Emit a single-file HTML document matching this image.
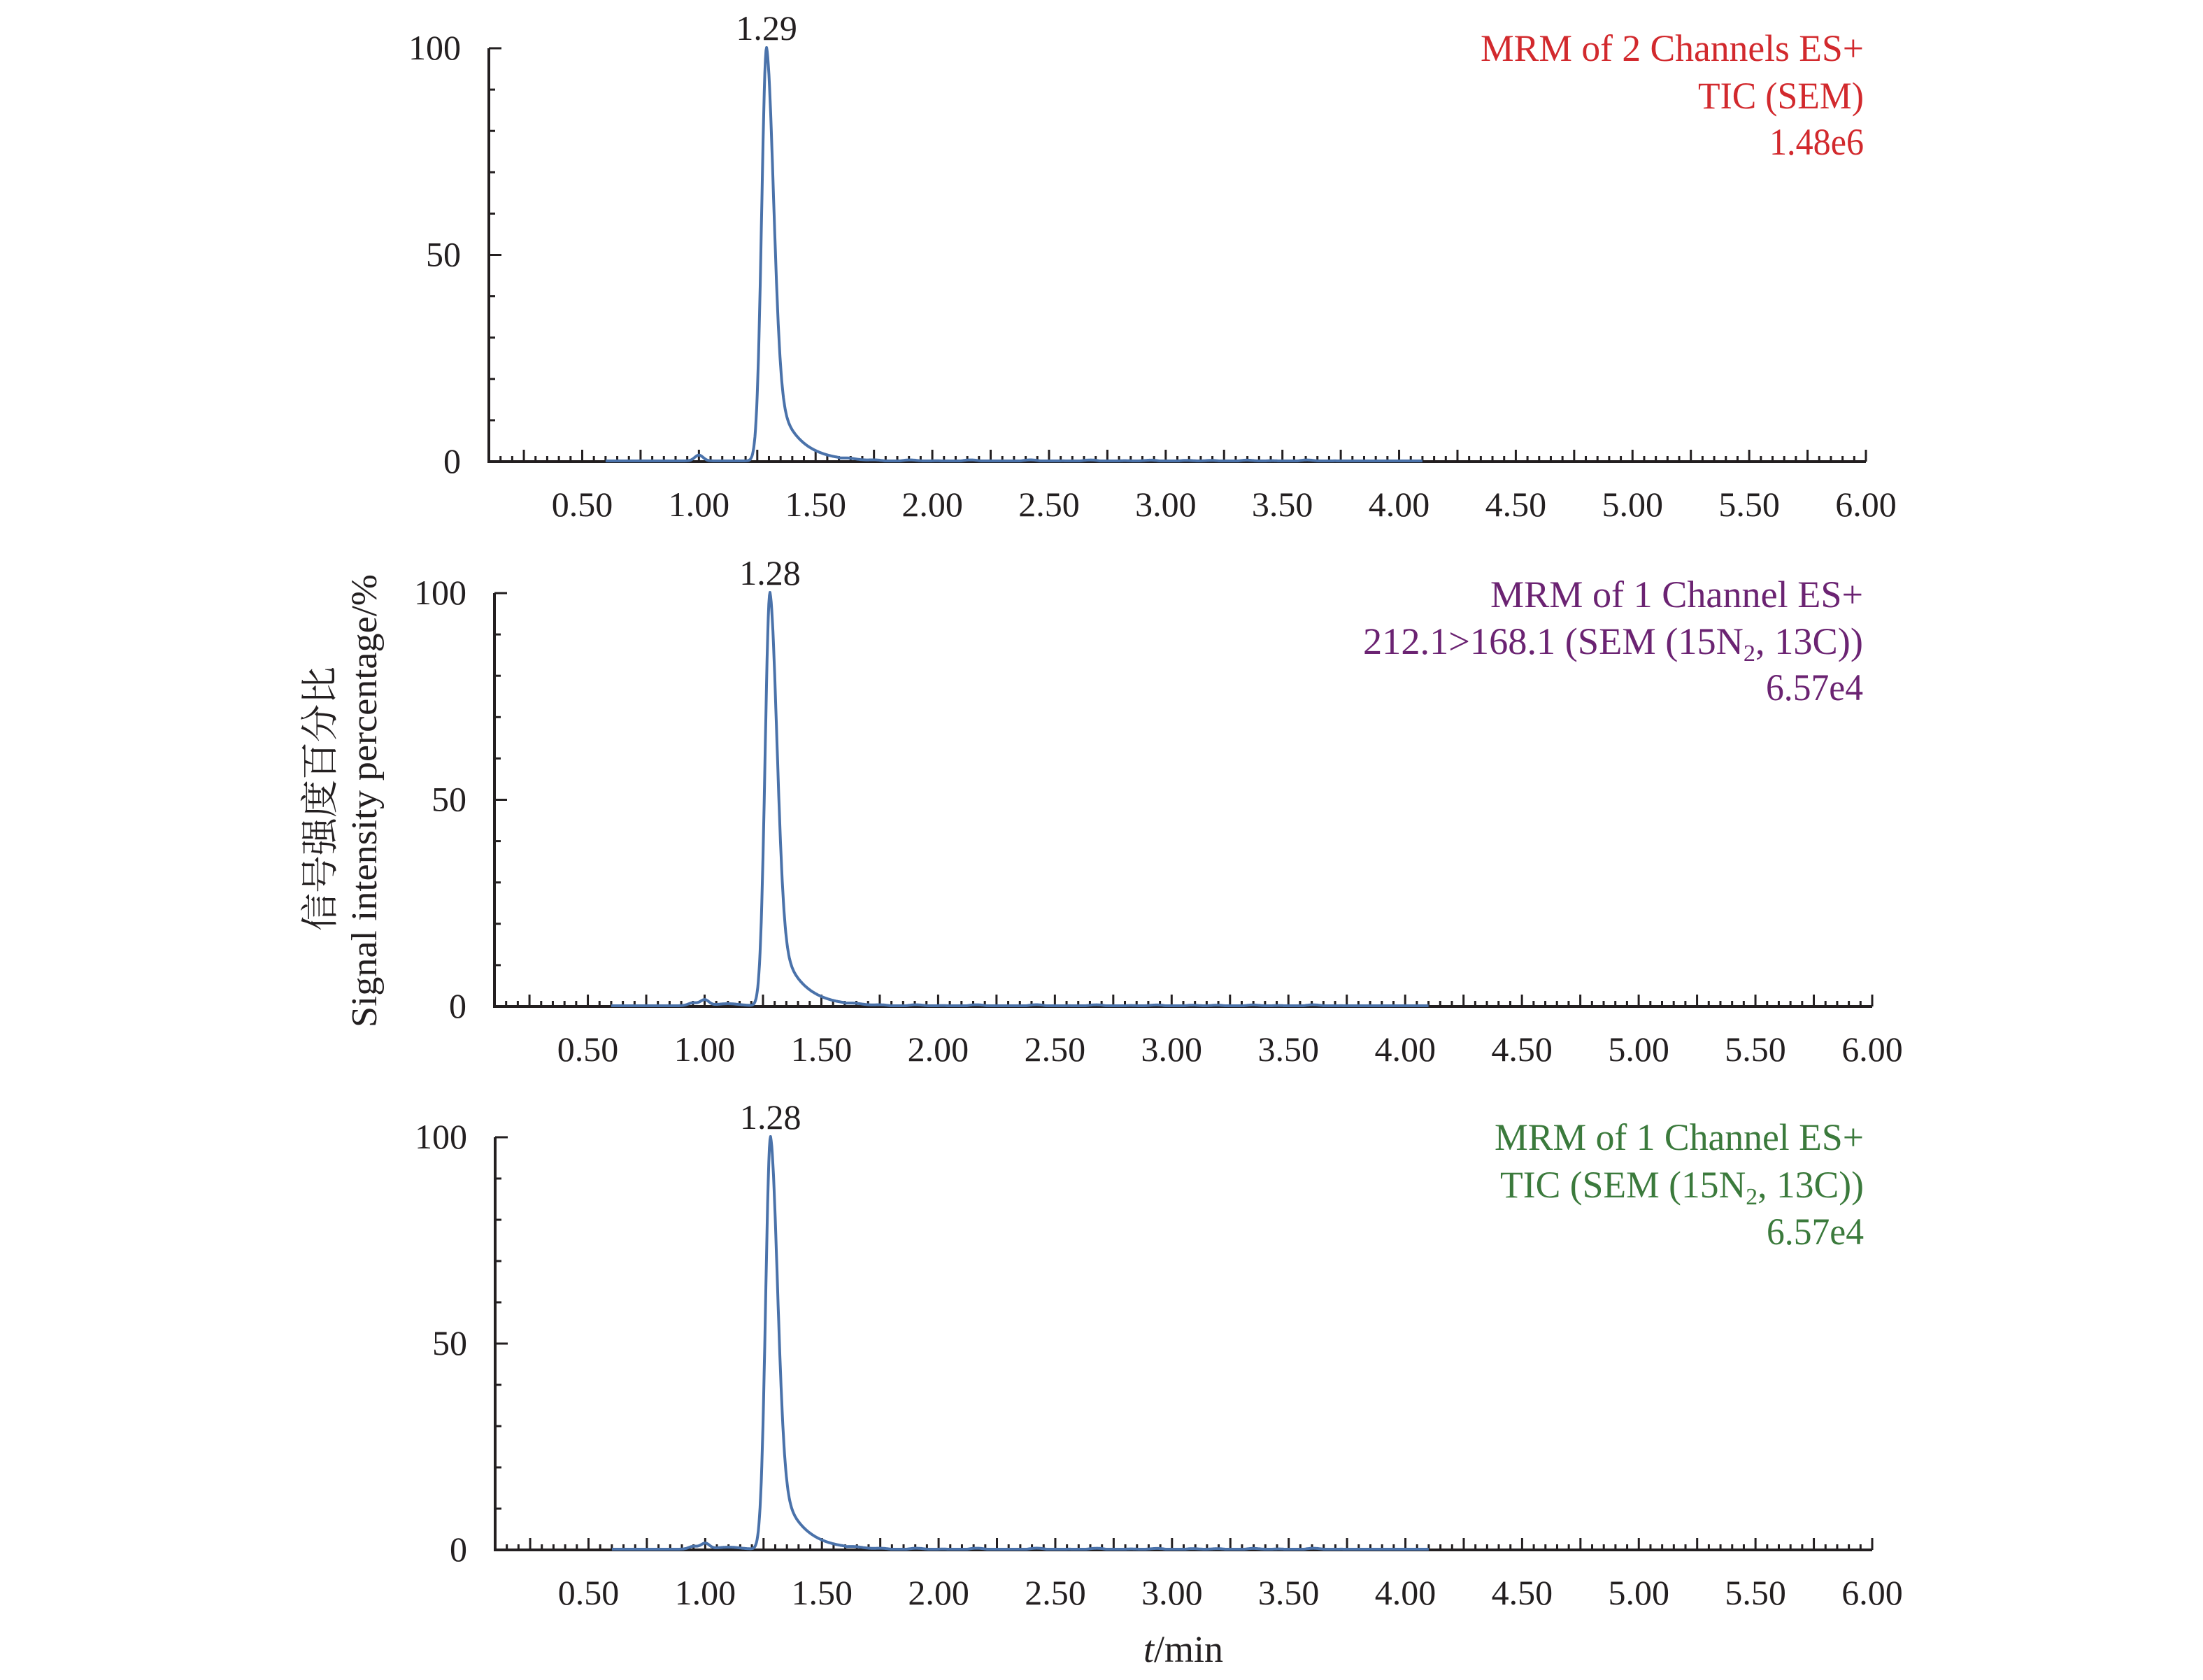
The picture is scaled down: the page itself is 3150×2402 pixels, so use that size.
<!DOCTYPE html>
<html><head><meta charset="utf-8">
<style>html,body{margin:0;padding:0;background:#fff;}svg{display:block;}</style>
</head><body>
<svg id="s" xmlns="http://www.w3.org/2000/svg" width="3150" height="2402" viewBox="0 0 3150 2402" font-family="'Liberation Serif', 'Noto Serif CJK SC', serif">
<rect width="3150" height="2402" fill="#fff"/>
<g id="g"></g>
<text x="450" y="1142" transform="rotate(-90 476 1142)" font-family="'Liberation Serif','Noto Serif CJK SC',serif" font-size="54" fill="#231f20" text-anchor="middle" x2="0"><tspan x="476" y="1142">信号强度百分比</tspan></text>
<text transform="rotate(-90 538 1145)" x="538" y="1145" font-size="52" fill="#231f20" text-anchor="middle" textLength="648" lengthAdjust="spacingAndGlyphs">Signal intensity percentage/%</text>
<text x="1692" y="2376" font-size="54" fill="#231f20" text-anchor="middle"><tspan font-style="italic">t</tspan>/min</text>
</svg>
<script>
var NS="http://www.w3.org/2000/svg",g=document.getElementById('g');
function el(n,a,t){var e=document.createElementNS(NS,n);for(var k in a)e.setAttribute(k,a[k]);if(t!==undefined)e.textContent=t;g.appendChild(e);return e;}
var panels=[
 {x0:699,x6:2668,top:69,base:660,tp:1.29,lab:"1.29",col:"#d2292d",
  lines:[["MRM of 2 Channels ES+",548],["TIC (SEM)",237],["1.48e6",135]],by:[87,155,221],r:2665,extra:false},
 {x0:707,x6:2677,top:848,base:1439,tp:1.28,lab:"1.28",col:"#6b2372",
  lines:[["MRM of 1 Channel ES+",533],["212.1>168.1 (SEM (15N|2|, 13C))",715],["6.57e4",139]],by:[868,935,1001],r:2664,extra:true},
 {x0:708,x6:2677,top:1626,base:2216,tp:1.28,lab:"1.28",col:"#3b7a3c",
  lines:[["MRM of 1 Channel ES+",528],["TIC (SEM (15N|2|, 13C))",520],["6.57e4",139]],by:[1644,1712,1779],r:2665,extra:true}
];
panels.forEach(function(p){
 var sx=(p.x6-p.x0)/5.9;function X(t){return p.x0+(t-0.1)*sx;}
 var H=p.base-p.top;function Y(v){return p.base-v/100*H;}
 var dk="#231f20";
 // axes
 el('path',{d:"M"+p.x0+" "+(p.top)+" L"+p.x0+" "+p.base+" L"+p.x6+" "+p.base,stroke:dk,"stroke-width":4,fill:"none"});
 // y ticks
 for(var v=0;v<=100;v+=10){var L=(v%50==0)?18:9;el('line',{x1:p.x0,x2:p.x0+L,y1:Y(v),y2:Y(v),stroke:dk,"stroke-width":3});}
 [0,50,100].forEach(function(v){el('text',{x:p.x0-40,y:Y(v)+16,"font-size":50,fill:dk,"text-anchor":"end"},String(v));});
 // x ticks
 for(var i=3;i<=120;i++){var t=i*0.05;var maj=(i%5==0);var L=maj?17:8;el('line',{x1:X(t),x2:X(t),y1:p.base,y2:p.base-L,stroke:dk,"stroke-width":3});}
 for(var k=1;k<=12;k++){var t=k*0.5;el('text',{x:X(t),y:p.base+78,"font-size":50,fill:dk,"text-anchor":"middle"},t.toFixed(2));}
 // curve
 var d="";
 for(var t=0.6;t<=4.1;t+=0.0025){
  var y=0,dt=t-p.tp;
  if(dt<0){y=100*Math.exp(-0.5*Math.pow(dt/0.021,2));}
  else{y=75.5*Math.exp(-0.5*Math.pow(dt/0.03,2))+24.5*Math.exp(-dt/0.092);}
  if(t<1.17) y=Math.min(y,100);
  y+=1.4*Math.exp(-0.5*Math.pow((t-1.0)/0.018,2));
  if(p.extra){y+=0.7*Math.exp(-0.5*Math.pow((t-0.95)/0.02,2))+0.5*Math.exp(-0.5*Math.pow((t-1.1)/0.05,2));}
  if(t>1.6&&t<3.8)y+=0.25*Math.sin(t*37)*Math.sin(t*11);
  y=Math.max(y,0);
  d+=(d?"L":"M")+X(t).toFixed(1)+" "+(Y(y)-1).toFixed(1);
 }
 el('path',{d:d,stroke:"#4a72aa","stroke-width":4,fill:"none","stroke-linejoin":"round"});
 el('text',{x:X(p.tp),y:p.top-12,"font-size":50,fill:dk,"text-anchor":"middle"},p.lab);
 // legend
 p.lines.forEach(function(l,j){
  var parts=l[0].split("|");
  var e=el('text',{x:p.r,y:p.by[j],"font-size":54,fill:p.col,"text-anchor":"end",textLength:l[1],lengthAdjust:"spacingAndGlyphs"});
  if(parts.length==1){e.textContent=l[0];}
  else{
   var a=document.createElementNS(NS,'tspan');a.textContent=parts[0];e.appendChild(a);
   var b=document.createElementNS(NS,'tspan');b.textContent=parts[1];b.setAttribute('font-size','34');b.setAttribute('dy','10');e.appendChild(b);
   var c=document.createElementNS(NS,'tspan');c.textContent=parts[2];c.setAttribute('dy','-10');e.appendChild(c);
  }
 });
});
</script>
</body></html>
